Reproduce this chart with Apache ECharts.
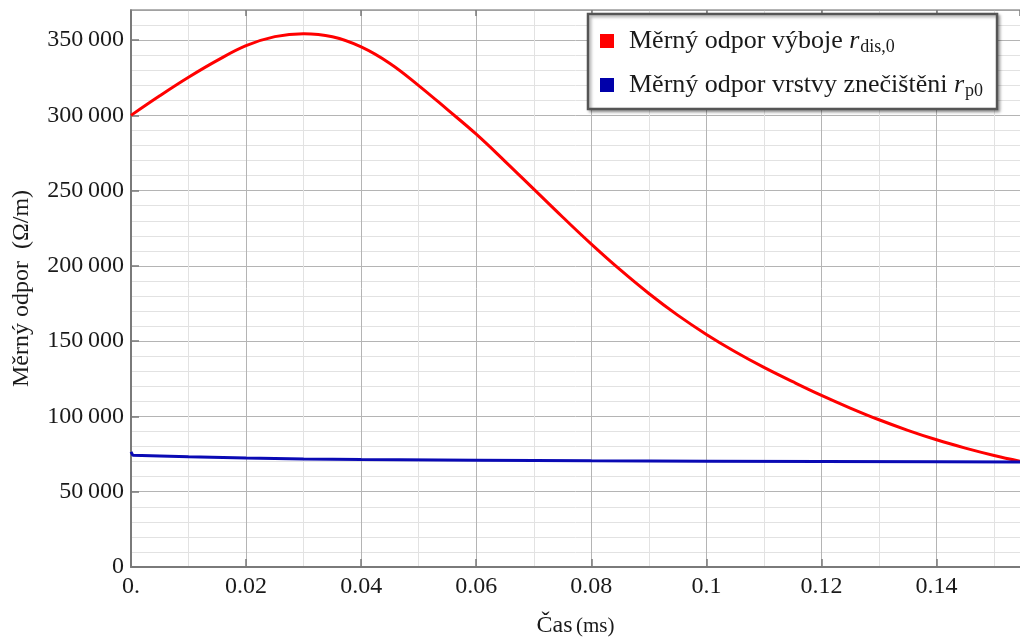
<!DOCTYPE html>
<html>
<head>
    <meta charset="utf-8">
    <title>Měrný odpor</title>
    <script src="https://cdn.jsdelivr.net/npm/echarts@6/dist/echarts.min.js"></script>
    <style>
        html, body { margin: 0; padding: 0; background: #fff; }
        #chart { width: 1020px; height: 639px; }
    </style>
</head>
<body>
<div id="chart"></div>
<script type="text/javascript">
    // cas (ms) a hodnoty
    var timeDis = [0, 0.005, 0.01, 0.015, 0.02, 0.025, 0.03, 0.035, 0.04, 0.045, 0.05, 0.055,
        0.06, 0.065, 0.07, 0.075, 0.08, 0.085, 0.09, 0.095, 0.1, 0.105, 0.11, 0.115,
        0.12, 0.125, 0.13, 0.135, 0.14, 0.145, 0.15, 0.1545];
    var rDis = [300000, 313000, 325300, 336500, 346300, 352300, 354300, 352200, 345500, 334500, 319800, 303800,
        287500, 269500, 251000, 232500, 214500, 197500, 181700, 167300, 154500, 143000, 132600, 123100,
        114000, 105600, 97800, 90800, 84500, 79000, 74100, 70300];

    var timeP0 = [0, 0.0003, 0.005, 0.01, 0.02, 0.03, 0.04, 0.06, 0.08, 0.1, 0.12, 0.14, 0.1545];
    var rP0 = [76500, 74300, 73800, 73300, 72400, 71800, 71400, 70900, 70500, 70300, 70100, 69900, 69800];

    var seriesNames = ['Měrný odpor výboje', 'Měrný odpor vrstvy znečištěni'];
    var seriesSubs = ['dis,0', 'p0'];

    function pairs(xs, ys) {
        var out = [];
        for (var i = 0; i < xs.length; i++) {
            out.push([xs[i], ys[i]]);
        }
        return out;
    }

    var font = 'Liberation Serif';
    var myChart = echarts.init(document.getElementById('chart'));

    var option = {
        animation: false,
        backgroundColor: '#fff',
        grid: {
            left: 131,
            right: 0,
            top: 10,
            bottom: 72,
            outerBoundsMode: 'none'
        },
        legend: {
            left: 588,
            top: 14,
            orient: 'vertical',
            icon: 'rect',
            itemWidth: 14,
            itemHeight: 14,
            itemGap: 14,
            padding: [12, 14, 9, 12],
            backgroundColor: '#fff',
            borderColor: '#555',
            borderWidth: 2.5,
            shadowColor: 'rgba(0,0,0,0.35)',
            shadowBlur: 3,
            shadowOffsetX: 2,
            shadowOffsetY: 2,
            data: seriesNames,
            formatter: function (name) {
                var i = seriesNames.indexOf(name);
                return name + ' {r|r}{sub|' + seriesSubs[i] + '}';
            },
            textStyle: {
                fontFamily: font,
                fontSize: 26,
                lineHeight: 30,
                color: '#1a1a1a',
                padding: [0, 0, 0, 10],
                rich: {
                    r: { fontFamily: font, fontStyle: 'italic', fontSize: 26, lineHeight: 30, color: '#1a1a1a' },
                    sub: { fontFamily: font, fontSize: 18, lineHeight: 30, color: '#1a1a1a', padding: [12, 0, 0, 1] }
                }
            }
        },
        xAxis: [{
            type: 'value',
            min: 0,
            max: 0.1545,
            interval: 0.02,
            name: '{a|Čas} {b|(ms)}',
            nameLocation: 'middle',
            nameGap: 47,
            nameTextStyle: {
                rich: {
                    a: { fontFamily: font, fontSize: 24, color: '#1a1a1a' },
                    b: { fontFamily: font, fontSize: 21, color: '#1a1a1a' }
                }
            },
            axisLine: { lineStyle: { color: '#7a7a7a', width: 2 } },
            axisTick: { inside: true, length: 8, lineStyle: { color: '#7a7a7a', width: 1.5 } },
            axisLabel: {
                showMaxLabel: false,
                margin: 8,
                fontFamily: font,
                fontSize: 24,
                color: '#1a1a1a',
                formatter: function (v) {
                    if (v === 0) return '0.';
                    return String(+v.toFixed(2));
                }
            },
            splitLine: { show: true, lineStyle: { color: '#b4b4b4', width: 1 } },
            minorTick: { show: false, splitNumber: 2 },
            minorSplitLine: { show: true, lineStyle: { color: '#e2e2e2', width: 1 } }
        }, {
            type: 'value',
            position: 'top',
            min: 0,
            max: 0.1545,
            interval: 0.02,
            axisLine: { show: true, lineStyle: { color: '#9a9a9a', width: 1.5 } },
            axisTick: { inside: true, length: 6, lineStyle: { color: '#7a7a7a', width: 1.5 } },
            axisLabel: { show: false },
            splitLine: { show: false }
        }],
        yAxis: {
            type: 'value',
            min: 0,
            max: 370000,
            interval: 50000,
            name: 'Měrný odpor  (Ω/m)',
            nameLocation: 'middle',
            nameGap: 97,
            nameTextStyle: { fontFamily: font, fontSize: 24, color: '#1a1a1a' },
            axisLine: { show: true, lineStyle: { color: '#7a7a7a', width: 2 } },
            axisTick: { show: true, inside: true, length: 8, lineStyle: { color: '#7a7a7a', width: 1.5 } },
            axisLabel: {
                showMaxLabel: false,
                margin: 7,
                fontFamily: font,
                fontSize: 24,
                color: '#1a1a1a',
                formatter: function (v) {
                    if (v === 0) return '0';
                    var s = String(v);
                    return s.slice(0, s.length - 3) + '\u2009' + s.slice(-3);
                }
            },
            splitLine: { show: true, lineStyle: { color: '#b4b4b4', width: 1 } },
            minorTick: { show: false, splitNumber: 5 },
            minorSplitLine: { show: true, lineStyle: { color: '#e2e2e2', width: 1 } }
        },
        series: [{
            name: seriesNames[0],
            type: 'line',
            smooth: 0.4,
            showSymbol: false,
            color: '#ff0000',
            lineStyle: { width: 3, color: '#ff0000' },
            data: pairs(timeDis, rDis)
        }, {
            name: seriesNames[1],
            type: 'line',
            smooth: false,
            showSymbol: false,
            color: '#0000aa',
            lineStyle: { width: 3, color: '#0a0ab4' },
            data: pairs(timeP0, rP0)
        }]
    };
    myChart.setOption(option);
</script>
</body>
</html>
